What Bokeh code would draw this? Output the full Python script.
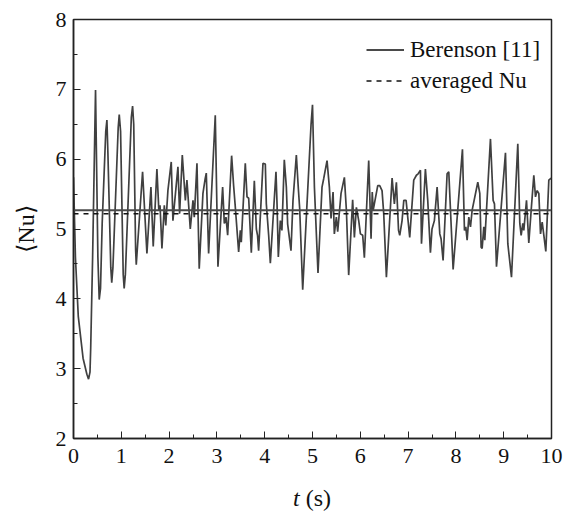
from bokeh.plotting import figure
from bokeh.models import SingleIntervalTicker, Legend, LegendItem, Range1d, Div
from bokeh.layouts import column
from bokeh.embed import file_html
from bokeh.resources import INLINE

# ---- data ----
t_s = [0.00, 0.04, 0.10, 0.20, 0.28, 0.315, 0.345, 0.36, 0.40, 0.461, 0.51, 0.538, 0.565, 0.60, 0.675,
       0.699, 0.72, 0.78, 0.80, 0.825, 0.935, 0.957, 0.985, 1.04, 1.06, 1.085, 1.21, 1.236, 1.26, 1.30,
       1.313, 1.445, 1.536, 1.62, 1.668, 1.745, 1.785, 1.81, 1.85, 1.90, 1.93, 1.975,
       2.045, 2.08, 2.185, 2.22, 2.276, 2.34, 2.373, 2.443, 2.50, 2.527, 2.583, 2.63, 2.708, 2.755,
       2.778, 2.827, 2.966, 3.022, 3.12, 3.155, 3.19, 3.225, 3.308, 3.35, 3.38, 3.455, 3.49, 3.51,
       3.594, 3.63, 3.665, 3.72, 3.783, 3.825, 3.85, 3.873, 3.964, 4.013, 4.034, 4.083, 4.118, 4.236,
       4.258, 4.285, 4.327, 4.36, 4.41, 4.453, 4.48, 4.55, 4.592, 4.662, 4.70, 4.732, 4.795, 4.885,
       4.97, 5.00, 5.04, 5.115, 5.199, 5.234, 5.304, 5.353, 5.388, 5.43, 5.457, 5.499, 5.527, 5.597,
       5.667, 5.709, 5.757, 5.84, 5.876, 5.918, 5.967, 6.002, 6.05, 6.085, 6.176, 6.225, 6.25, 6.27,
       6.365, 6.406, 6.455, 6.49, 6.546, 6.665, 6.713, 6.755, 6.80, 6.825, 6.874, 6.91, 6.958, 7.034,
       7.118, 7.174, 7.21, 7.258, 7.28, 7.362, 7.411, 7.467, 7.50, 7.55, 7.607, 7.663, 7.69, 7.732,
       7.816, 7.851, 7.942, 8.137, 8.179, 8.207, 8.235, 8.27, 8.305, 8.34, 8.458, 8.50, 8.528, 8.549,
       8.584, 8.605, 8.723, 8.779, 8.807, 8.849, 9.037, 9.086, 9.163, 9.295, 9.337, 9.365, 9.40, 9.421,
       9.477, 9.525, 9.575, 9.63, 9.665, 9.70, 9.735, 9.77, 9.805, 9.84, 9.881, 9.944, 9.993]
nu = [5.74, 4.60, 3.75, 3.15, 2.92, 2.85, 2.95, 3.30, 4.60, 6.99, 4.60, 3.99, 4.15, 5.08, 6.40,
      6.56, 6.08, 4.45, 4.23, 4.45, 6.45, 6.64, 6.40, 4.35, 4.15, 4.35, 6.60, 6.76, 6.50, 4.70,
      4.49, 5.82, 4.65, 5.60, 4.75, 5.86, 5.27, 5.34, 4.72, 5.34, 5.05, 5.55,
      5.96, 5.12, 5.89, 5.22, 6.06, 5.41, 5.70, 5.00, 5.41, 5.17, 5.94, 4.43, 5.51, 5.72,
      5.80, 4.65, 6.63, 4.46, 5.60, 5.08, 5.17, 4.91, 6.05, 5.62, 5.36, 4.67, 4.98, 4.81,
      5.94, 5.46, 5.44, 4.66, 5.69, 5.00, 4.91, 4.69, 5.94, 5.93, 5.36, 4.91, 4.51, 5.82,
      5.36, 4.60, 5.12, 4.98, 5.99, 5.60, 5.07, 4.69, 5.41, 6.06, 5.62, 5.29, 4.13, 5.36,
      6.50, 6.78, 5.60, 4.37, 5.60, 5.72, 5.98, 5.60, 5.15, 5.53, 4.93, 5.17, 4.96, 5.51,
      5.74, 5.27, 4.34, 5.42, 4.88, 5.31, 5.12, 4.93, 4.91, 4.59, 5.98, 4.86, 5.53, 5.27,
      5.62, 5.62, 5.55, 5.22, 4.31, 5.73, 5.36, 5.67, 4.98, 4.91, 5.12, 5.41, 5.41, 4.88,
      5.70, 5.77, 5.79, 5.84, 4.79, 5.86, 5.41, 4.66, 5.00, 5.12, 5.60, 4.93, 4.86, 4.55,
      5.79, 5.82, 4.42, 6.14, 4.98, 5.03, 4.84, 5.17, 5.03, 5.27, 5.67, 5.51, 4.74, 4.72,
      5.03, 4.84, 6.29, 5.41, 5.36, 4.46, 6.09, 4.79, 4.31, 6.22, 5.08, 4.91, 5.08, 4.98,
      5.41, 4.80, 5.27, 5.77, 5.46, 5.55, 5.51, 4.93, 5.10, 4.91, 4.68, 5.70, 5.73]

x_span = [0, 10]
berenson_nu = [5.27, 5.27]
averaged_nu = [5.22, 5.22]
legend_labels = ["Berenson [11]", "averaged Nu"]
y_label = "\u27e8Nu\u27e9"

FONT = "Liberation Serif"

p = figure(width=565, height=478, x_range=Range1d(0, 10), y_range=Range1d(2, 8),
           output_backend="svg", toolbar_location=None,
           min_border_left=73, min_border_right=14, min_border_top=19, min_border_bottom=40)

p.background_fill_color = "white"
p.border_fill_color = "white"
p.grid.visible = False
p.outline_line_color = "#222222"
p.outline_line_width = 1.5

# series
p.line(t_s, nu, line_color="#404040", line_width=1.7)
r_ber = p.line(x_span, berenson_nu, line_color="#4a4a4a", line_width=2.0)
r_avg = p.line(x_span, averaged_nu, line_color="#111111", line_width=1.5, line_dash="5 5")

legend = Legend(items=[LegendItem(label=legend_labels[0], renderers=[r_ber]),
                       LegendItem(label=legend_labels[1], renderers=[r_avg])],
                location=(293, 342))
legend.border_line_color = None
legend.background_fill_alpha = 0
legend.label_text_font = FONT
legend.label_text_font_size = "23px"
legend.label_text_color = "#111111"
legend.glyph_width = 38
legend.glyph_height = 31
legend.label_height = 31
legend.label_standoff = 6
legend.spacing = 0
legend.padding = 10
legend.margin = 0
p.add_layout(legend)

for ax in (p.xaxis[0], p.yaxis[0]):
    ax.axis_line_color = "#222222"
    ax.axis_line_width = 1.5
    ax.major_tick_line_color = "#222222"
    ax.minor_tick_line_color = "#222222"
    ax.major_tick_in = 7
    ax.major_tick_out = 0
    ax.minor_tick_in = 4
    ax.minor_tick_out = 0
    ax.major_label_text_font = FONT
    ax.major_label_text_font_size = "22px"
    ax.major_label_text_color = "#111111"
    ax.major_label_standoff = 7

p.xaxis.ticker = SingleIntervalTicker(interval=1, num_minor_ticks=2)
p.yaxis.ticker = SingleIntervalTicker(interval=1, num_minor_ticks=2)
p.xaxis.major_label_standoff = 10

p.yaxis.axis_label = y_label
p.yaxis.axis_label_text_font = FONT
p.yaxis.axis_label_text_font_size = "24px"
p.yaxis.axis_label_text_font_style = "normal"
p.yaxis.axis_label_text_color = "#111111"
p.yaxis.axis_label_standoff = 14

# x-axis title with italic t, as real text below the plot
xlabel = Div(text='<div style="font-family:\'Liberation Serif\',serif;font-size:24px;line-height:24px;'
                  'color:#111111;padding-top:8px;padding-left:293px;white-space:nowrap;">'
                  '<i>t</i> (s)</div>',
             width=565, height=32, margin=(0, 0, 0, 0))

layout = column(p, xlabel, spacing=0)
open("out.html", "w").write(file_html(layout, INLINE))
